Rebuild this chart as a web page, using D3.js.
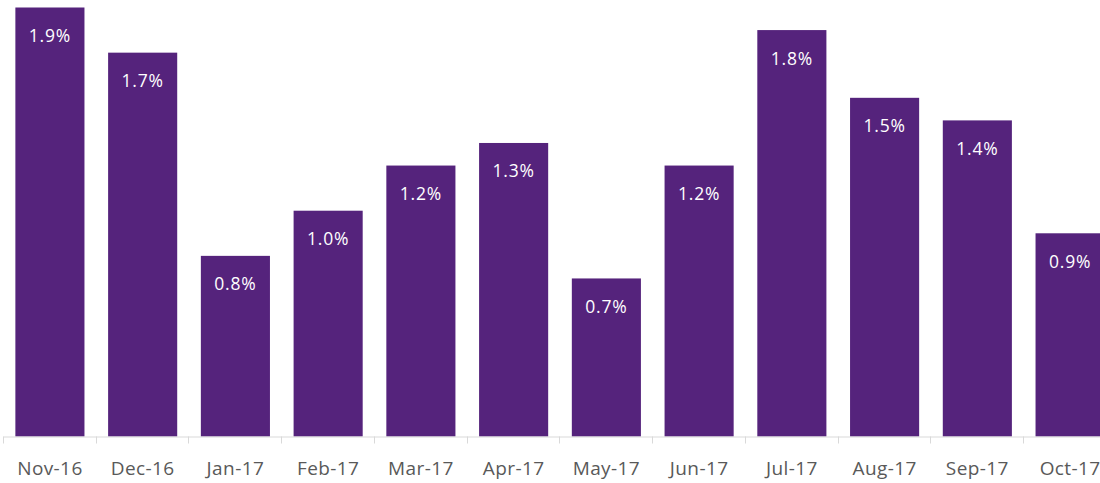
<!DOCTYPE html>
<html>
<head>
<meta charset="utf-8">
<script src="https://cdn.jsdelivr.net/npm/d3@7"></script>
<style>
  body { margin: 0; background: #fff; }
  svg { display: block; }
</style>
</head>
<body>
<div id="wrapper"></div>
<script>
const months = ["Nov-16", "Dec-16", "Jan-17", "Feb-17", "Mar-17", "Apr-17",
                "May-17", "Jun-17", "Jul-17", "Aug-17", "Sep-17", "Oct-17"];
const growth = [1.9, 1.7, 0.8, 1.0, 1.2, 1.3, 0.7, 1.2, 1.8, 1.5, 1.4, 0.9];

const dataset = months.map((m, i) => ({ month: m, value: growth[i] }));
const xAccessor = d => d.month;
const yAccessor = d => d.value;

const width = 1100;
const height = 483;
const baseline = 436.5;

const svg = d3.select("#wrapper")
  .append("svg")
  .attr("width", width)
  .attr("height", height);

// band step ~92.7px, the last bar runs off the right edge
const xScale = d3.scaleBand()
  .domain(months)
  .range([3.5, 3.5 + 12 * 92.75])
  .paddingInner(0.255)
  .paddingOuter(0.128);

const yScale = d3.scaleLinear()
  .domain([0, 1.9])
  .range([baseline, 7.5]);

const bars = svg.append("g");
bars.selectAll("rect")
  .data(dataset)
  .join("rect")
  .attr("x", d => xScale(xAccessor(d)))
  .attr("width", xScale.bandwidth())
  .attr("y", d => yScale(yAccessor(d)))
  .attr("height", d => baseline - yScale(yAccessor(d)))
  .attr("fill", "#55237c");

bars.selectAll("text")
  .data(dataset)
  .join("text")
  .attr("x", d => xScale(xAccessor(d)) + xScale.bandwidth() / 2)
  .attr("y", d => yScale(yAccessor(d)) + 34.5)
  .attr("text-anchor", "middle")
  .attr("fill", "#fff")
  .style("font-family", "'Open Sans', sans-serif")
  .style("font-size", "17.5px")
  .style("letter-spacing", "0.8px")
  .text(d => d3.format(".1f")(yAccessor(d)) + "%");

// x axis: Excel-style ticks between categories
const xAxisGenerator = d3.axisBottom(xScale).tickSize(0).tickPadding(25);
const xAxis = svg.append("g")
  .attr("transform", `translate(0, ${baseline})`)
  .call(xAxisGenerator);
xAxis.select(".domain").attr("stroke", "#d9d9d9").attr("d", `M3.5,0.5H${width}`);
xAxis.selectAll("text")
  .attr("fill", "#595959")
  .style("font-family", "'Open Sans', sans-serif")
  .style("font-size", "19px")
  .style("letter-spacing", "0.4px");

const step = xScale.step();
xAxis.append("g")
  .selectAll("line")
  .data(d3.range(13))
  .join("line")
  .attr("x1", i => Math.round(3 + i * step) + 0.5)
  .attr("x2", i => Math.round(3 + i * step) + 0.5)
  .attr("y1", 0)
  .attr("y2", 7)
  .attr("stroke", "#d9d9d9");
</script>
</body>
</html>
